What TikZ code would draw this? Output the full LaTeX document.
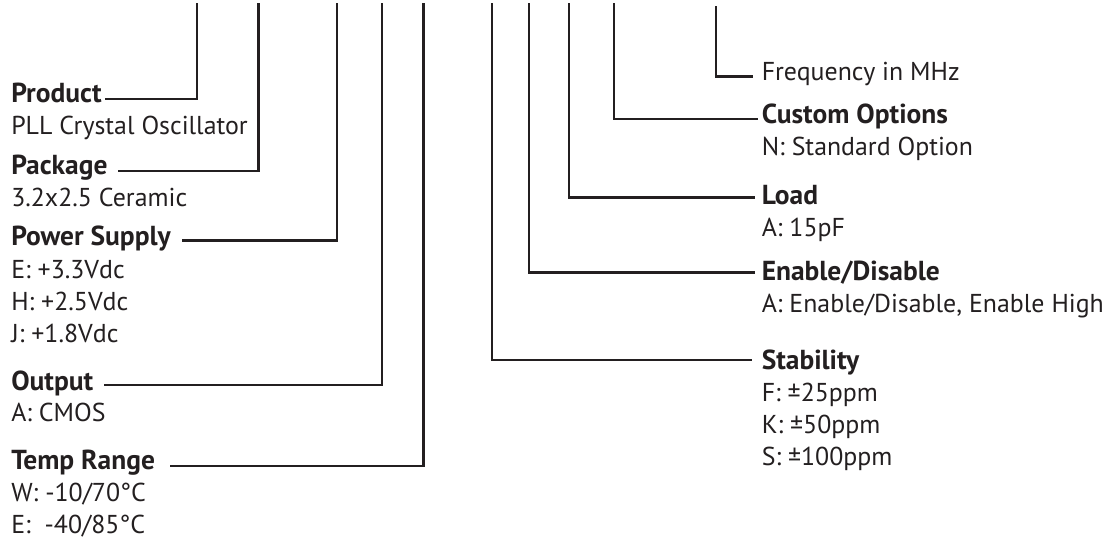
\documentclass[tikz,border=0pt]{standalone}
\usepackage{fontspec}
\setmainfont{PT Sans}
\usetikzlibrary{positioning}
\definecolor{ink}{HTML}{231F20}

\begin{document}
\begin{tikzpicture}[x=0.75pt, y=-0.75pt,
  head/.style={anchor=base west, inner sep=0pt, text=ink, font=\fontsize{20.6}{24}\selectfont\bfseries},
  body/.style={anchor=base west, inner sep=0pt, text=ink, align=left, font=\fontsize{19.4}{24}\selectfont},
  lead/.style={draw=ink, line width=1.6pt}]
\useasboundingbox (0,0) rectangle (1108,539);

% left column (a body node sits on the baseline of its last line)
\node[head] at (11,102.5) (prod) {Product};
\node[body] at (11,134) (prodtxt) {PLL Crystal Oscillator};
\node[head] at (11,174) (pack) {Package};
\node[body] at (11,206.5) (packtxt) {3.2x2.5 Ceramic};
\node[head] at (11,245.5) (supply) {Power Supply};
\node[body] at (11,342.5) (supplytxt) {E: +3.3Vdc\\H: +2.5Vdc\\J: +1.8Vdc};
\node[head] at (11,390.5) (out) {Output};
\node[body] at (11,421.5) (outtxt) {A: CMOS};
\node[head] at (11,469) (temp) {Temp Range};
\node[body] at (11,533) (temptxt) {W: -10/70°C\\E:~~-40/85°C};

% right column
\node[body] at (761.5,80.5) (freq) {Frequency in MHz};
\node[head] at (761.5,123.5) (opt) {Custom Options};
\node[body] at (761.5,155) (opttxt) {N: Standard Option};
\node[head] at (761.5,204) (load) {Load};
\node[body] at (761.5,236.5) (loadtxt) {A: 15pF};
\node[head] at (761.5,280.5) (en) {Enable/Disable};
\node[body] at (761.5,312.5) (entxt) {A: Enable/Disable, Enable High};
\node[head] at (761.5,369) (stab) {Stability};
\node[body] at (761.5,465.5) (stabtxt) {F: ±25ppm\\K: ±50ppm\\S: ±100ppm};

% tops of the leads
\coordinate (prodtop) at (197,3);
\coordinate (packtop) at (258.5,3);
\coordinate (supplytop) at (337,3);
\coordinate (outtop) at (382,3);
\coordinate (temptop) at (423.5,3);
\coordinate (stabtop) at (492,3);
\coordinate (entop) at (529,3);
\coordinate (loadtop) at (569,3);
\coordinate (opttop) at (614,3);
\coordinate (freqtop) at (716,6);

\draw[lead] (prodtop) |- ([xshift=2.25pt, yshift=2.6pt]prod.base east);
\draw[lead] (packtop) |- ([xshift=7.5pt, yshift=2.25pt]pack.base east);
\draw[lead] (supplytop) |- ([xshift=8.25pt, yshift=3.75pt]supply.base east);
\draw[lead] (outtop) |- ([xshift=8.25pt, yshift=4.1pt]out.base east);
\draw[lead] (temptop) |- ([xshift=11.25pt, yshift=2.5pt]temp.base east);

\draw[lead] (freqtop) |- ([xshift=-6.75pt, yshift=3pt]freq.base west);
\draw[lead] (opttop) |- ([xshift=-3pt, yshift=3.4pt]opt.base west);
\draw[lead] (loadtop) |- ([xshift=-5.25pt, yshift=4.9pt]load.base west);
\draw[lead] (entop) |- ([xshift=-5.25pt, yshift=6pt]en.base west);
\draw[lead] (stabtop) |- ([xshift=-7.5pt, yshift=6.75pt]stab.base west);

\end{tikzpicture}
\end{document}
